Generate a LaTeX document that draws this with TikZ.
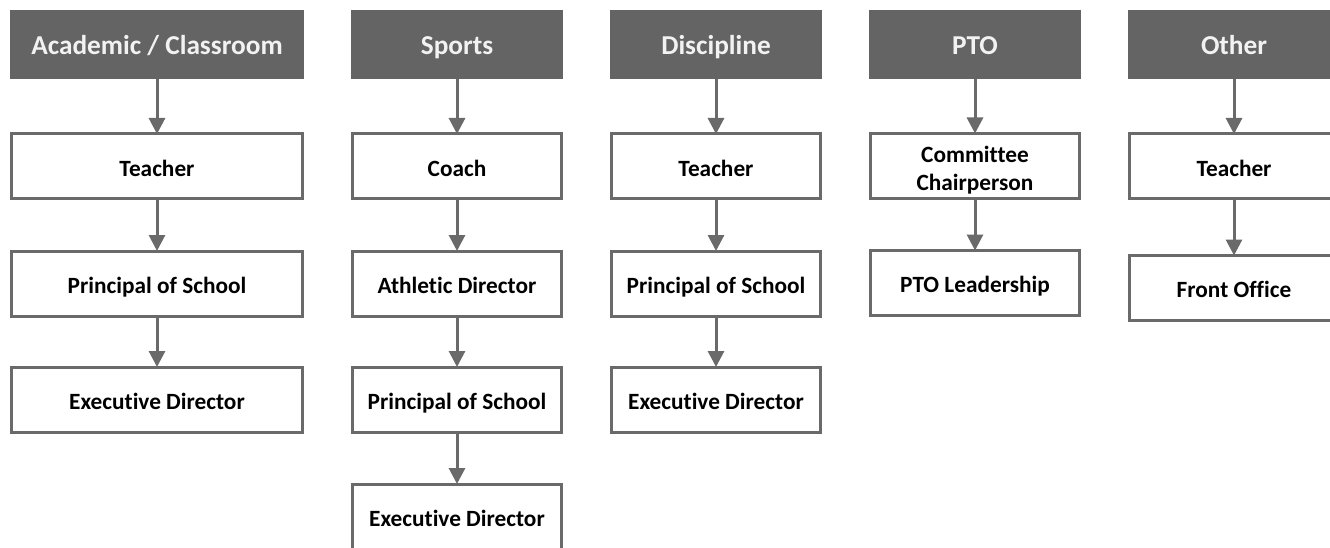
\documentclass[tikz,border=0pt]{standalone}
\usepackage{fontspec}
\setmainfont{Carlito}[RawFeature=-liga]
\usetikzlibrary{arrows.meta}
\definecolor{hdr}{HTML}{646464}
\definecolor{edge}{HTML}{6A6A6A}
\definecolor{hdrtext}{HTML}{F2F2F2}
\tikzset{
  x=1pt, y=-1pt,
  head/.style={rectangle, fill=hdr, draw=hdr, line width=3pt, inner sep=0pt, minimum height=66pt,
    text=hdrtext, font=\fontsize{27.3}{30}\selectfont\bfseries, align=center,
    text height=25pt, text depth=5.5pt},
  box/.style={rectangle, fill=white, draw=edge, line width=3pt, inner sep=0pt, minimum height=65pt,
    text=black, font=\fontsize{23.3}{28}\selectfont\bfseries, align=center},
  one/.style={text height=24.5pt, text depth=4.7pt},
  two/.style={text height=54.5pt, text depth=4.7pt},
  wide/.style={minimum width=291pt},
  narrow/.style={minimum width=209pt},
  link/.style={draw=edge, line width=3pt, -{Triangle[length=16pt,width=16pt]}, shorten >=-1.5pt},
}
\begin{document}
\begin{tikzpicture}
\useasboundingbox (0,0) rectangle (1330,548);
\clip (0,0) rectangle (1330,548);
% column 1
\node[head,wide] (h1) at (157,44.5) {Academic / Classroom};
\node[box,one,wide] (a1) at (157,166.5) {Teacher};
\node[box,one,wide] (a2) at (157,283.5) {Principal of School};
\node[box,one,wide] (a3) at (157,399.5) {Executive Director};
% column 2
\node[head,narrow] (h2) at (457,44.5) {Sports};
\node[box,one,narrow] (b1) at (457,166.5) {Coach};
\node[box,one,narrow] (b2) at (457,283.5) {Athletic Director};
\node[box,one,narrow] (b3) at (457,399.5) {Principal of School};
\node[box,one,narrow] (b4) at (457,516.5) {Executive Director};
% column 3
\node[head,narrow] (h3) at (716,44.5) {Discipline};
\node[box,one,narrow] (c1) at (716,166.5) {Teacher};
\node[box,one,narrow] (c2) at (716,283.5) {Principal of School};
\node[box,one,narrow] (c3) at (716,399.5) {Executive Director};
% column 4
\node[head,narrow] (h4) at (975,44.5) {PTO};
\node[box,two,narrow] (d1) at (975,166) {Committee\\Chairperson};
\node[box,one,narrow] (d2) at (975,283) {PTO Leadership};
% column 5
\node[head,narrow] (h5) at (1234,44.5) {Other};
\node[box,one,narrow] (e1) at (1234,166.5) {Teacher};
\node[box,one,narrow] (e2) at (1234,288) {Front Office};
% connectors
\draw[link] (h1) -- (a1);
\draw[link] (a1) -- (a2);
\draw[link] (a2) -- (a3);
\draw[link] (h2) -- (b1);
\draw[link] (b1) -- (b2);
\draw[link] (b2) -- (b3);
\draw[link] (b3) -- (b4);
\draw[link] (h3) -- (c1);
\draw[link] (c1) -- (c2);
\draw[link] (c2) -- (c3);
\draw[link] (h4) -- (d1);
\draw[link] (d1) -- (d2);
\draw[link] (h5) -- (e1);
\draw[link] (e1) -- (e2);
\end{tikzpicture}
\end{document}
